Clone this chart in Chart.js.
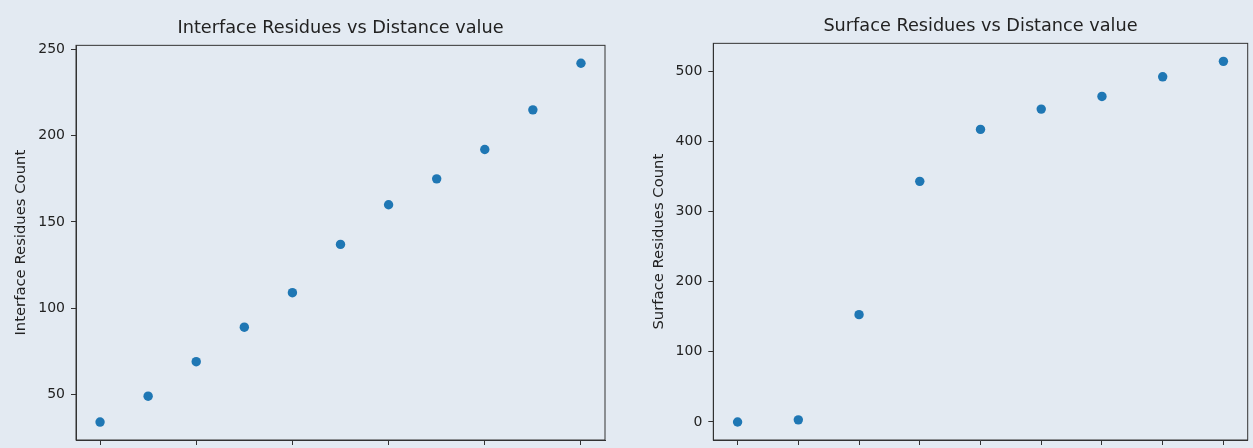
<!DOCTYPE html>
<html>
<head>
<meta charset="utf-8">
<script src="https://cdn.jsdelivr.net/npm/chart.js@4.4.1/dist/chart.umd.min.js"></script>
<style>
  html, body { margin: 0; padding: 0; background: #e3eaf2; }
  body { width: 1253px; height: 448px; position: relative; overflow: hidden; }
  .panel { position: absolute; top: 0; }
</style>
</head>
<body>
<div class="panel" style="left:0px"><canvas id="interfaceChart" width="630" height="448"></canvas></div>
<div class="panel" style="left:630px"><canvas id="surfaceChart" width="623" height="448"></canvas></div>
<script>
// Data (x tick labels are cut off in the picture)
const interfaceDistances = [3, 3.5, 4, 4.5, 5, 5.5, 6, 6.5, 7, 7.5, 8];
const interfaceCounts = [34, 49, 69, 89, 109, 137, 160, 175, 192, 215, 242];

const surfaceDistances = [1, 2, 3, 4, 5, 6, 7, 8, 9];
const surfaceCounts = [0, 3, 153, 343, 417, 446, 464, 492, 514];

const BLUE = '#1f77b4';
const INK = '#222222';
const FONT = 'DejaVu Sans';

Chart.defaults.font.family = FONT;
Chart.defaults.color = INK;

// matplotlib style 5% margins around the data
function withMargin(values) {
    const lo = Math.min(...values);
    const hi = Math.max(...values);
    const m = (hi - lo) * 0.05;
    return [lo - m, hi + m];
}

// draw the full axes box (all four spines)
const frame = {
    id: 'frame',
    afterDraw(chart) {
        const { ctx, chartArea: a } = chart;
        ctx.save();
        ctx.strokeStyle = '#333';
        ctx.lineWidth = 1;
        ctx.strokeRect(a.left, a.top, a.right - a.left, a.bottom - a.top);
        ctx.restore();
    }
};

function makeChart(id, opts) {
    const [xMin, xMax] = withMargin(opts.xs);
    const [yMin, yMax] = withMargin(opts.ys);
    return new Chart(document.getElementById(id), {
        type: 'scatter',
        data: {
            datasets: [{
                data: opts.xs.map((x, i) => ({ x: x, y: opts.ys[i] })),
                backgroundColor: BLUE,
                borderColor: BLUE,
                borderWidth: 0,
                pointRadius: 4.7,
                pointHoverRadius: 4.7
            }]
        },
        options: {
            responsive: false,
            animation: false,
            devicePixelRatio: 1,
            layout: { padding: { left: 0, right: opts.padRight, top: 0, bottom: 0 } },
            plugins: {
                legend: { display: false },
                tooltip: { enabled: false },
                title: {
                    display: true,
                    text: opts.title,
                    fullSize: false,
                    color: INK,
                    font: { family: FONT, size: 17.7, weight: 'normal', lineHeight: 1.2 },
                    padding: { top: opts.titleTop, bottom: 6.3 }
                }
            },
            scales: {
                x: {
                    type: 'linear',
                    min: xMin,
                    max: xMax,
                    border: { display: true, color: '#333' },
                    grid: { drawOnChartArea: false, drawTicks: true, tickLength: 5, color: '#333' },
                    ticks: { display: false, stepSize: opts.xStep, includeBounds: false },
                    afterFit(scale) { scale.height = 8; }
                },
                y: {
                    type: 'linear',
                    min: yMin,
                    max: yMax,
                    border: { display: true, color: '#333' },
                    grid: { drawOnChartArea: false, drawTicks: true, tickLength: 5, color: '#333' },
                    ticks: {
                        stepSize: opts.yStep,
                        includeBounds: false,
                        padding: 6,
                        color: INK,
                        font: { family: FONT, size: 14, lineHeight: 1 }
                    },
                    title: {
                        display: true,
                        text: opts.yLabel,
                        color: INK,
                        font: { family: FONT, size: 14.8 },
                        padding: { top: opts.yLabelPad, bottom: 0 }
                    },
                    afterFit(scale) {
                        scale.width = opts.yWidth;
                        scale.paddingTop = 0;
                        scale.paddingBottom = 0;
                    }
                }
            }
        },
        plugins: [frame]
    });
}

makeChart('interfaceChart', {
    xs: interfaceDistances,
    ys: interfaceCounts,
    title: 'Interface Residues vs Distance value',
    yLabel: 'Interface Residues Count',
    xStep: 1,
    yStep: 50,
    yWidth: 76,
    yLabelPad: 12,
    padRight: 25,
    titleTop: 17.8
});

makeChart('surfaceChart', {
    xs: surfaceDistances,
    ys: surfaceCounts,
    title: 'Surface Residues vs Distance value',
    yLabel: 'Surface Residues Count',
    xStep: 1,
    yStep: 100,
    yWidth: 83.3,
    yLabelPad: 19.8,
    padRight: 5.3,
    titleTop: 15.8
});
</script>
</body>
</html>
